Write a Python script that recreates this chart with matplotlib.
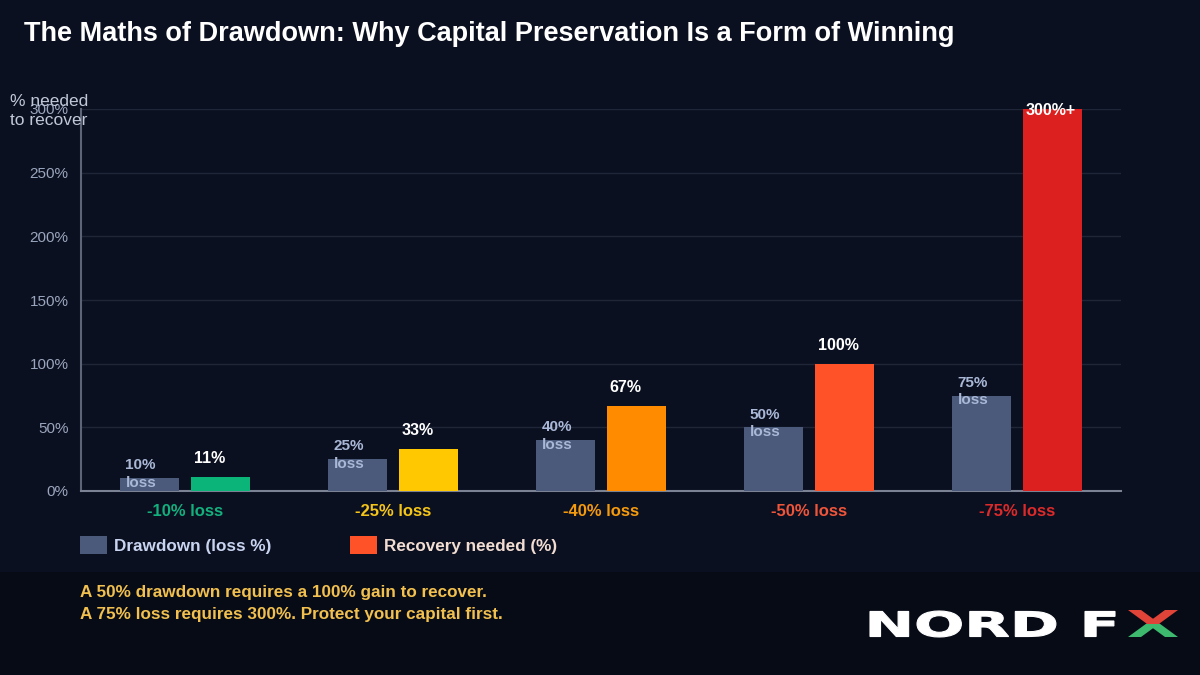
import matplotlib.pyplot as plt
from matplotlib.patches import Rectangle, Polygon, PathPatch
from matplotlib.textpath import TextPath
from matplotlib.font_manager import FontProperties
from matplotlib.transforms import Affine2D
import numpy as np

plt.rcParams['font.family'] = ['Liberation Sans', 'DejaVu Sans']

categories = ['-10% loss', '-25% loss', '-40% loss', '-50% loss', '-75% loss']
drawdown = [10, 25, 40, 50, 75]
recovery = [11, 33, 67, 100, 300]
recovery_labels = ['11%', '33%', '67%', '100%', '300%+']
drawdown_labels = ['10%\nloss', '25%\nloss', '40%\nloss', '50%\nloss', '75%\nloss']
rec_colors = ['#0bb57a', '#ffc800', '#ff8c00', '#ff5229', '#dc2020']
cat_colors = ['#13b07e', '#f5c518', '#f59a0c', '#f0553a', '#dc2a2a']
yticks = [0, 50, 100, 150, 200, 250, 300]

bg = '#0b1020'
fig = plt.figure(figsize=(12, 6.75), dpi=100, facecolor=bg)

# full-figure overlay in pixel units (y measured from bottom)
ov = fig.add_axes([0, 0, 1, 1], zorder=-1)
ov.set_xlim(0, 1200)
ov.set_ylim(0, 675)
ov.axis('off')
ov.add_patch(Rectangle((0, 0), 1200, 675 - 572, facecolor='#070b16', edgecolor='none'))

fig.text(24 / 1200, 1 - 34 / 675, 'The Maths of Drawdown: Why Capital Preservation Is a Form of Winning',
         color='white', fontsize=19.5, fontweight='bold', va='center', ha='left')

ax = fig.add_axes([81 / 1200, 1 - 491 / 675, 1040 / 1200, 382 / 675])
ax.set_facecolor(bg)
x = np.arange(len(categories))
w = 0.284
off = 0.171
ax.bar(x - off, drawdown, w, color='#4b5a7a', zorder=3)
ax.bar(x + off, recovery, w, color=rec_colors, zorder=3)
ax.set_xlim(-0.5, 4.5)
ax.set_ylim(0, 300)
ax.set_yticks(yticks)
ax.set_yticklabels([f'{t}%' for t in yticks])
ax.tick_params(axis='y', colors='#9aa6bd', labelsize=11, length=0, pad=9)
ax.grid(axis='y', color='#1e2638', linewidth=1, zorder=0)
for s in ['top', 'right']:
    ax.spines[s].set_visible(False)
ax.spines['left'].set_color('#5c6475')
ax.spines['bottom'].set_color('#7a8294')
ax.spines['left'].set_linewidth(1.5)
ax.spines['bottom'].set_linewidth(1.5)
ax.set_xticks(x)
ax.set_xticklabels(categories)
ax.tick_params(axis='x', length=0, pad=9, labelsize=12)
for lbl, c in zip(ax.get_xticklabels(), cat_colors):
    lbl.set_color(c)
    lbl.set_fontweight('bold')

for i, (d, r) in enumerate(zip(drawdown, recovery)):
    ax.annotate(drawdown_labels[i], (i - off - w / 2, d), xytext=(4, 3),
                textcoords='offset points', color='#a9b8d6', fontsize=11,
                fontweight='bold', ha='left', va='center', linespacing=1.3, zorder=4)
    if r >= 300:
        ax.annotate(recovery_labels[i], (i + off - w / 2, r), xytext=(2, -1),
                    textcoords='offset points', color='white', fontsize=11.5,
                    fontweight='bold', ha='left', va='center', zorder=4)
    else:
        ax.annotate(recovery_labels[i], (i + off - w / 2, r), xytext=(2, 8),
                    textcoords='offset points', color='white', fontsize=11.5,
                    fontweight='bold', ha='left', va='bottom', zorder=4)

fig.text(10 / 1200, 1 - 111 / 675, '% needed\nto recover', color='#c0c8d8',
         fontsize=12.5, ha='left', va='center', linespacing=1.3)

# legend
fig.patches.append(Rectangle((80 / 1200, 1 - 554 / 675), 27 / 1200, 18 / 675,
                             transform=fig.transFigure, facecolor='#4b5a7a', edgecolor='none'))
fig.text(114 / 1200, 1 - 546 / 675, 'Drawdown (loss %)', color='#c8d4f0',
         fontsize=12.3, fontweight='bold', va='center')
fig.patches.append(Rectangle((350 / 1200, 1 - 554 / 675), 27 / 1200, 18 / 675,
                             transform=fig.transFigure, facecolor='#ff5229', edgecolor='none'))
fig.text(384 / 1200, 1 - 546 / 675, 'Recovery needed (%)', color='#f2ddd2',
         fontsize=12.3, fontweight='bold', va='center')

# footer text
fig.text(80 / 1200, 1 - 592 / 675, 'A 50% drawdown requires a 100% gain to recover.',
         color='#f2c04e', fontsize=12.3, fontweight='bold', va='center')
fig.text(80 / 1200, 1 - 614 / 675, 'A 75% loss requires 300%. Protect your capital first.',
         color='#f2c04e', fontsize=12.3, fontweight='bold', va='center')

# logo: stretched heavy text + two-tone X
fp = FontProperties(family='DejaVu Sans', weight='bold')
tp = TextPath((0, 0), 'NORD F', prop=fp, size=1)
ext = tp.get_extents()
tr = (Affine2D().translate(-ext.x0, -ext.y0)
      .scale((1115 - 870) / ext.width, 26 / ext.height)
      .translate(870, 675 - 637))
ov.add_patch(PathPatch(tr.transform_path(tp), facecolor='white', edgecolor='white', linewidth=0.8))

x0, x1, yt, yb = 1128, 1178, 675 - 610, 675 - 637
ym = (yt + yb) / 2
sw = 13
stroke1 = [(x0, yt), (x0 + sw, yt), (x1, yb), (x1 - sw, yb)]
stroke2 = [(x1 - sw, yt), (x1, yt), (x0 + sw, yb), (x0, yb)]
for pts in (stroke1, stroke2):
    top = Polygon(pts, closed=True, facecolor='#e04438', edgecolor='none')
    bot = Polygon(pts, closed=True, facecolor='#3dba6e', edgecolor='none')
    ov.add_patch(top)
    ov.add_patch(bot)
    top.set_clip_path(Rectangle((x0 - 2, ym), x1 - x0 + 4, yt - ym + 2, transform=ov.transData))
    bot.set_clip_path(Rectangle((x0 - 2, yb - 2), x1 - x0 + 4, ym - yb + 2, transform=ov.transData))

fig.savefig('out.png', dpi=100, facecolor=bg)
